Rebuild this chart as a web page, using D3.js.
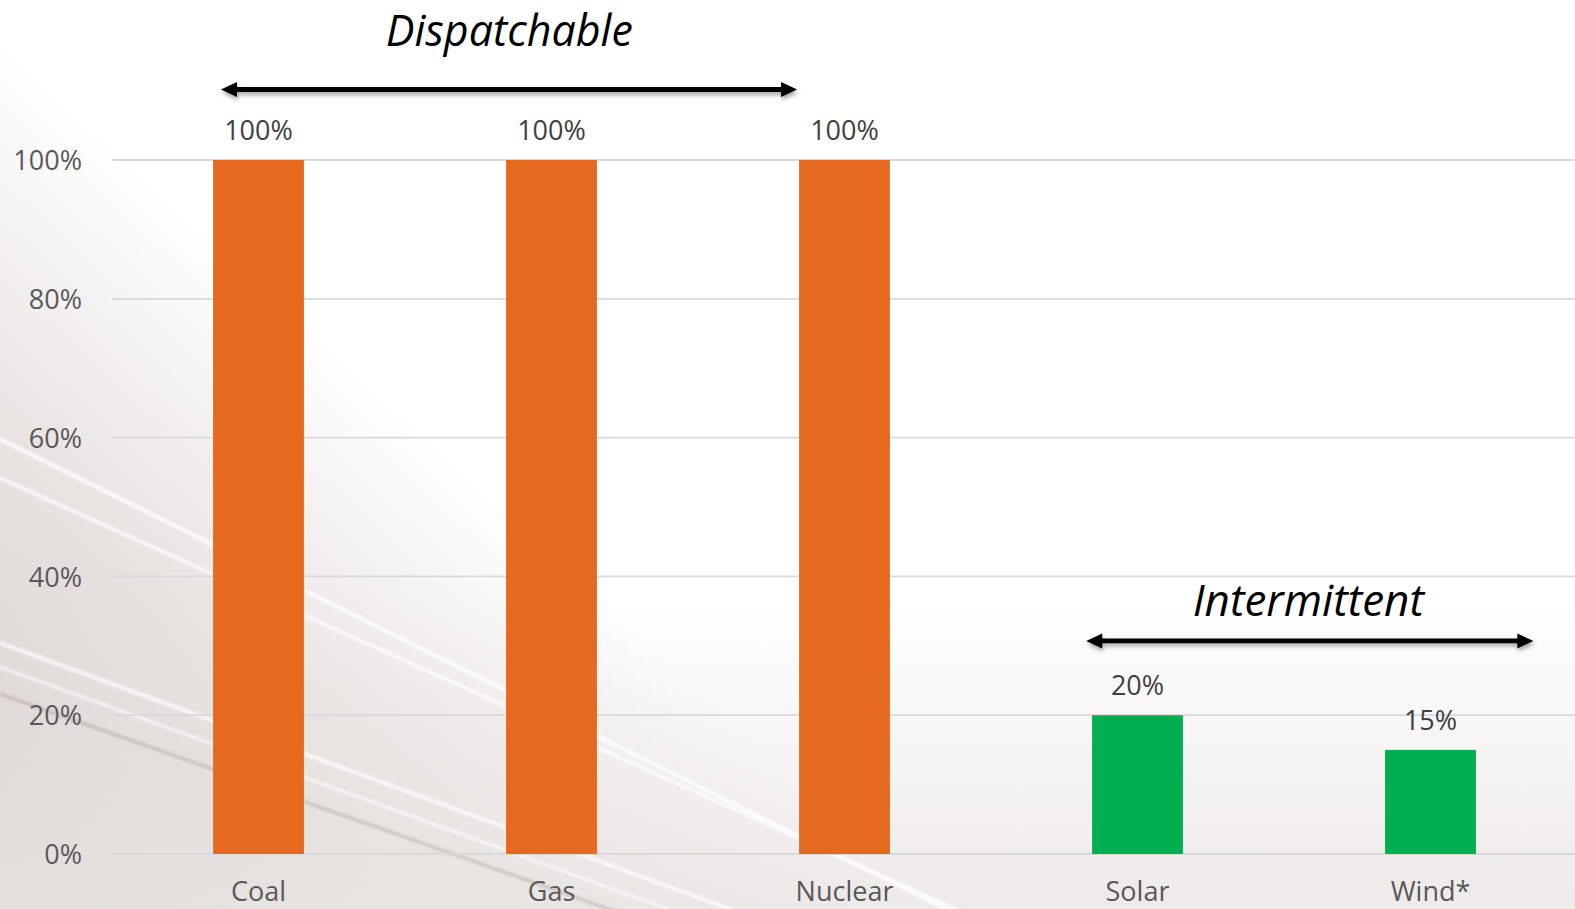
<!DOCTYPE html>
<html><head><meta charset="utf-8">
<script src="https://cdn.jsdelivr.net/npm/d3@7"></script>
<style>html,body{margin:0;padding:0;overflow:hidden;background:#fff}</style>
</head><body><svg id="chart" width="1575" height="909"></svg>
<script>
// ---- data ----
const categories = ["Coal", "Gas", "Nuclear", "Solar", "Wind*"];
const values = [1.00, 1.00, 1.00, 0.20, 0.15];
const barGroup = ["dispatchable", "dispatchable", "dispatchable", "intermittent", "intermittent"];
const yTicks = [0, 0.2, 0.4, 0.6, 0.8, 1.0];
const groupTitles = ["Dispatchable", "Intermittent"];
// annotation spans in category-index units (arrow from, arrow to, title centre) and value units (arrow level, title level)
const groupArrowFrom = [-0.128, 2.825];
const groupArrowTo = [1.838, 4.351];
const groupTitleAt = [0.856, 3.583];
const groupArrowLevel = [1.1016, 0.307];
const groupTitleLevel = [1.1643, 0.343];

const W = 1575, H = 909;
const svg = d3.select("#chart");
const defs = svg.append("defs");

// background
const bg = defs.append("linearGradient").attr("id", "bg")
  .attr("gradientUnits", "userSpaceOnUse")
  .attr("x1", 0).attr("y1", 909).attr("x2", 700).attr("y2", 150);
bg.append("stop").attr("offset", 0).attr("stop-color", "#d6cdca");
bg.append("stop").attr("offset", 0.35).attr("stop-color", "#e8e4e2");
bg.append("stop").attr("offset", 0.62).attr("stop-color", "#ffffff");
bg.append("stop").attr("offset", 1).attr("stop-color", "#ffffff");
const bg2 = defs.append("linearGradient").attr("id", "bg2")
  .attr("x1", 0).attr("y1", 0).attr("x2", 0).attr("y2", 1);
bg2.append("stop").attr("offset", 0).attr("stop-color", "#e9e5e3").attr("stop-opacity", 0);
bg2.append("stop").attr("offset", 1).attr("stop-color", "#e9e5e3").attr("stop-opacity", 0.8);
const blur = defs.append("filter").attr("id", "blur").attr("x", "-10%").attr("y", "-10%").attr("width", "120%").attr("height", "120%");
blur.append("feGaussianBlur").attr("stdDeviation", 1.2);
const shadow = defs.append("filter").attr("id", "shadow").attr("x", "-5%").attr("y", "-100%").attr("width", "110%").attr("height", "300%");
shadow.append("feDropShadow").attr("dx", 1).attr("dy", 3).attr("stdDeviation", 2.2)
  .attr("flood-color", "#000").attr("flood-opacity", 0.35);

svg.append("rect").attr("width", W).attr("height", H).attr("fill", "url(#bg)");
svg.append("rect").attr("y", 600).attr("width", W).attr("height", 309).attr("fill", "url(#bg2)");

// decorative streaks
const streaks = [
  {p: [[0, 439], [1000, 936]], c: "#ffffff", o: 0.8, w: 4},
  {p: [[0, 478], [1000, 929]], c: "#ffffff", o: 0.75, w: 3.5},
  {p: [[0, 643], [760, 920]], c: "#ffffff", o: 0.7, w: 4},
  {p: [[0, 667], [740, 935]], c: "#ffffff", o: 0.6, w: 3},
  {p: [[0, 694], [640, 920]], c: "#9c908d", o: 0.35, w: 3.5}
];
svg.append("g").attr("filter", "url(#blur)").selectAll("path").data(streaks).join("path")
  .attr("d", d => d3.line()(d.p)).attr("stroke", d => d.c).attr("stroke-opacity", d => d.o)
  .attr("stroke-width", d => d.w).attr("fill", "none");

// scales
const x = d3.scaleBand().domain(categories).range([112, 1577]).paddingInner(0.69).paddingOuter(0.345);
const y = d3.scaleLinear().domain([0, 1]).range([854, 160]);
const step = x.step();
const xi = i => x(categories[0]) + x.bandwidth() / 2 + i * step;

const font = "'Open Sans', 'DejaVu Sans', sans-serif";

// gridlines + y axis
const yAxis = d3.axisLeft(y).tickValues(yTicks).tickFormat(d3.format(".0%")).tickSize(0).tickPadding(0);
const gy = svg.append("g").attr("transform", "translate(82,0)").call(yAxis);
gy.select(".domain").remove();
gy.selectAll("text").attr("font-family", font).attr("font-size", 27).attr("fill", "#595959")
  .attr("dy", "0.36em").attr("x", 0);
svg.append("g").selectAll("line").data(yTicks).join("line")
  .attr("x1", 112).attr("x2", W).attr("y1", d => y(d)).attr("y2", d => y(d))
  .attr("stroke", "#d9d9d9").attr("stroke-width", 1.8);

// bars
const color = {dispatchable: "#e5691f", intermittent: "#00b050"};
const data = categories.map((c, i) => ({c, v: values[i], g: barGroup[i]}));
svg.append("g").selectAll("rect").data(data).join("rect")
  .attr("x", d => x(d.c)).attr("width", x.bandwidth())
  .attr("y", d => y(d.v)).attr("height", d => y(0) - y(d.v))
  .attr("fill", d => color[d.g]);

// value labels
svg.append("g").selectAll("text").data(data).join("text")
  .attr("x", d => x(d.c) + x.bandwidth() / 2).attr("y", d => y(d.v) - 20)
  .attr("text-anchor", "middle").attr("font-family", font).attr("font-size", 27)
  .attr("fill", "#404040").text(d => d3.format(".0%")(d.v));

// x axis labels
const xAxis = d3.axisBottom(x).tickSize(0).tickPadding(0);
const gx = svg.append("g").attr("transform", "translate(0,901)").call(xAxis);
gx.select(".domain").remove();
gx.selectAll("text").attr("font-family", font).attr("font-size", 27).attr("fill", "#595959")
  .attr("dy", 0).attr("y", 0);

// group annotations
const titleSizes = [43, 44];
groupTitles.forEach((t, k) => {
  const x1 = xi(groupArrowFrom[k]), x2 = xi(groupArrowTo[k]), ya = y(groupArrowLevel[k]);
  const hl = 16, hh = 7.5, lw = 2.4;
  const pts = [[x1, ya], [x1 + hl, ya - hh], [x1 + hl, ya - lw], [x2 - hl, ya - lw], [x2 - hl, ya - hh],
               [x2, ya], [x2 - hl, ya + hh], [x2 - hl, ya + lw], [x1 + hl, ya + lw], [x1 + hl, ya + hh]];
  svg.append("path").attr("d", d3.line()(pts) + "Z").attr("fill", "#000").attr("filter", "url(#shadow)");
  svg.append("text").attr("x", xi(groupTitleAt[k])).attr("y", y(groupTitleLevel[k]))
    .attr("text-anchor", "middle").attr("font-family", font).attr("font-style", "italic")
    .attr("font-size", titleSizes[k]).attr("fill", "#000").text(t);
});
</script>
</body></html>
